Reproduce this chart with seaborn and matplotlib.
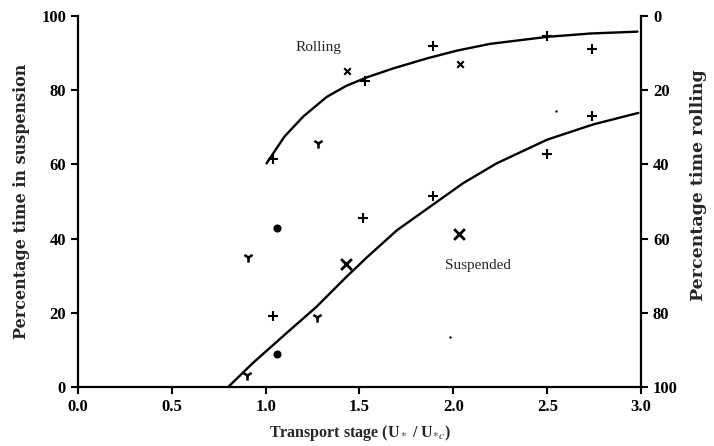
import matplotlib
matplotlib.use("Agg")
import matplotlib.pyplot as plt
import seaborn as sns

# ---- data ----
rolling_curve_x = [1.005, 1.10, 1.20, 1.325, 1.43, 1.54, 1.68, 1.86, 2.02, 2.195, 2.50, 2.73, 2.98]
rolling_curve_y = [60.3, 67.5, 72.9, 78.2, 81.2, 83.5, 85.9, 88.6, 90.7, 92.5, 94.4, 95.3, 95.8]

susp_curve_x = [0.80, 0.93, 1.11, 1.27, 1.43, 1.54, 1.70, 1.875, 2.05, 2.23, 2.50, 2.745, 2.985]
susp_curve_y = [0.0, 6.4, 14.5, 21.6, 29.7, 35.0, 42.3, 48.6, 54.9, 60.3, 66.7, 70.8, 73.9]

plus_x = [1.04, 1.53, 1.89, 2.50, 2.74, 1.04, 1.52, 1.89, 2.50, 2.74]
plus_y = [61.6, 82.5, 91.9, 94.6, 91.0, 19.1, 45.5, 51.5, 62.8, 73.1]

smallx_x = [1.435, 2.035]
smallx_y = [85.3, 87.2]

bigx_x = [1.43, 2.03]
bigx_y = [33.2, 41.4]

tri_x = [1.28, 0.905, 1.275, 0.90]
tri_y = [65.7, 35.0, 18.8, 3.2]

blob_x = [1.062, 1.062]
blob_y = [43.0, 8.9]

dot_x = [2.547, 1.98]
dot_y = [74.4, 13.5]

x_ticks = [0.0, 0.5, 1.0, 1.5, 2.0, 2.5, 3.0]
x_tick_labels = ["0.0", "0.5", "1.0", "1.5", "2.0", "2.5", "3.0"]
y_ticks = [0, 20, 40, 60, 80, 100]

# ---- styling ----
sns.set_theme(style="ticks")
plt.rcParams["font.family"] = ["Liberation Serif", "DejaVu Serif"]
plt.rcParams["mathtext.fontset"] = "stix"

fig = plt.figure(figsize=(7.14, 4.46), dpi=100)
ax = fig.add_axes([0.109, 0.132, 0.789, 0.832])

k = "black"
sns.lineplot(x=rolling_curve_x, y=rolling_curve_y, ax=ax, color=k, lw=1.7, sort=False)
sns.lineplot(x=susp_curve_x, y=susp_curve_y, ax=ax, color=k, lw=1.7, sort=False)

sns.scatterplot(x=plus_x, y=plus_y, ax=ax, marker="+", s=55, color=k, linewidth=1.5)
sns.scatterplot(x=smallx_x, y=smallx_y, ax=ax, marker="x", s=22, color=k, linewidth=1.5)
sns.scatterplot(x=bigx_x, y=bigx_y, ax=ax, marker="x", s=60, color=k, linewidth=2.0)
sns.scatterplot(x=tri_x, y=tri_y, ax=ax, marker="1", s=55, color=k, linewidth=1.8)
sns.scatterplot(x=blob_x, y=blob_y, ax=ax, marker="o", s=34, color=k, linewidth=0)
sns.scatterplot(x=dot_x, y=dot_y, ax=ax, marker="o", s=3, color=k, linewidth=0)

ax.text(1.28, 91.5, "Rolling", ha="center", va="center", fontsize=11)
ax.text(2.13, 32.8, "Suspended", ha="center", va="center", fontsize=11)

ax.set_xlim(0, 3)
ax.set_ylim(0, 100)
ax.set_xticks(x_ticks)
ax.set_xticklabels(x_tick_labels)
ax.set_yticks(y_ticks)
ax.tick_params(axis="both", direction="out", length=5, width=1.5, labelsize=12, colors=k)
for lab in ax.get_xticklabels() + ax.get_yticklabels():
    lab.set_fontweight("bold")

ax.spines["top"].set_visible(False)
ax.spines["right"].set_visible(False)
for s in ["left", "bottom"]:
    ax.spines[s].set_linewidth(1.6)
    ax.spines[s].set_color(k)

ax.set_xlabel("Transport stage (U$_*$ / U$_{*c}$)", fontsize=11.5, fontweight="bold", labelpad=6)
ax.set_ylabel("Percentage time in suspension", fontsize=11.5, fontweight="bold",
              family="DejaVu Serif", labelpad=8)

ax2 = ax.twinx()
ax2.set_ylim(100, 0)
ax2.set_yticks(y_ticks)
ax2.tick_params(axis="y", direction="out", length=5, width=1.5, labelsize=12, colors=k)
for lab in ax2.get_yticklabels():
    lab.set_fontweight("bold")
for s in ["top", "left", "bottom"]:
    ax2.spines[s].set_visible(False)
ax2.spines["right"].set_linewidth(1.6)
ax2.spines["right"].set_color(k)
ax2.set_ylabel("Percentage time rolling", fontsize=12.5, fontweight="bold",
               family="DejaVu Serif")
ax2.yaxis.set_label_coords(1.087, 0.545)

fig.savefig("out.png", dpi=100, facecolor="white")
